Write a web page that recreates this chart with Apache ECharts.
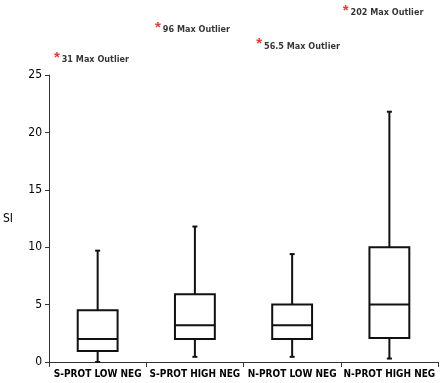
<!DOCTYPE html>
<html><head><meta charset="utf-8">
<script src="https://cdn.jsdelivr.net/npm/echarts@6/dist/echarts.min.js"></script>
<style>html,body{margin:0;padding:0;background:#fff}#c{width:440px;height:383px}</style>
</head><body><div id="c"></div>
<script>
const categories = ['S-PROT LOW NEG', 'S-PROT HIGH NEG', 'N-PROT LOW NEG', 'N-PROT HIGH NEG'];
const whiskerLow = [0, 0.45, 0.45, 0.3];
const q1 = [0.95, 2.0, 2.0, 2.1];
const median = [2.0, 3.2, 3.2, 5.0];
const q3 = [4.5, 5.9, 5.0, 10.0];
const whiskerHigh = [9.7, 11.8, 9.4, 21.8];
const outlierLabels = ['31 Max Outlier', '96 Max Outlier', '56.5 Max Outlier', '202 Max Outlier'];
const outlierX = [0.05, 1.09, 2.13, 3.02];
const outlierY = [26.3, 28.95, 27.5, 30.4];
const yTicks = [0, 5, 10, 15, 20, 25];

const boxData = categories.map((c, i) => [i, whiskerLow[i], q1[i], median[i], q3[i], whiskerHigh[i]]);
const annData = outlierLabels.map((t, i) => [outlierX[i], outlierY[i], t]);

const FONT = 'DejaVu Sans Condensed, Liberation Sans, Arial';
const chart = echarts.init(document.getElementById('c'));
const stroke = '#111';
chart.setOption({
  animation: false,
  backgroundColor: '#fff',
  grid: { left: 48, right: 2, top: 75, bottom: 21 },
  xAxis: [{
    type: 'category', data: categories, boundaryGap: true,
    axisLine: { lineStyle: { color: '#333', width: 1 } },
    axisTick: { show: true, length: 5, lineStyle: { color: '#333' } },
    axisLabel: { color: '#000', fontFamily: FONT, fontWeight: 'bold', fontSize: 10, margin: 7, interval: 0 }
  }, {
    type: 'value', min: 0, max: 4, show: false
  }],
  yAxis: {
    type: 'value', min: yTicks[0], max: yTicks[yTicks.length - 1], interval: 5,
    name: 'SI', nameLocation: 'middle', nameRotate: 0, nameGap: 36,
    nameTextStyle: { color: '#000', fontSize: 12, fontFamily: FONT },
    splitLine: { show: false },
    axisLine: { show: true, lineStyle: { color: '#333', width: 1 } },
    axisTick: { show: true, length: 4, lineStyle: { color: '#333' } },
    axisLabel: { color: '#000', fontSize: 12, fontFamily: FONT, margin: 7 }
  },
  series: [{
    type: 'custom',
    xAxisIndex: 0, yAxisIndex: 0,
    data: boxData,
    renderItem(params, api) {
      const x = api.value(0);
      const pLo = api.coord([x, api.value(1)]);
      const pQ1 = api.coord([x, api.value(2)]);
      const pMd = api.coord([x, api.value(3)]);
      const pQ3 = api.coord([x, api.value(4)]);
      const pHi = api.coord([x, api.value(5)]);
      const cx = pMd[0];
      const hw = api.size([1, 0])[0] * 0.205;
      const cap = 2.5;
      const st = { stroke: stroke, lineWidth: 2, fill: null };
      return { type: 'group', children: [
        { type: 'line', shape: { x1: cx, y1: pHi[1], x2: cx, y2: pQ3[1] }, style: st },
        { type: 'line', shape: { x1: cx, y1: pQ1[1], x2: cx, y2: pLo[1] }, style: st },
        { type: 'line', shape: { x1: cx - cap, y1: pHi[1], x2: cx + cap, y2: pHi[1] }, style: st },
        { type: 'line', shape: { x1: cx - cap, y1: pLo[1], x2: cx + cap, y2: pLo[1] }, style: st },
        { type: 'rect', shape: { x: cx - hw, y: pQ3[1], width: hw * 2, height: pQ1[1] - pQ3[1] }, style: { stroke: stroke, lineWidth: 2, fill: '#fff' } },
        { type: 'line', shape: { x1: cx - hw, y1: pMd[1], x2: cx + hw, y2: pMd[1] }, style: st }
      ]};
    }
  }, {
    type: 'scatter',
    xAxisIndex: 1, yAxisIndex: 0,
    clip: false,
    symbolSize: 0,
    data: annData,
    label: {
      show: true, position: 'right', distance: 0,
      formatter: p => '{s|*}{t|' + p.value[2] + '}',
      rich: {
        s: { color: '#e00', fontSize: 15, fontWeight: 'bold', padding: [0, 2, 4, 0] },
        t: { color: '#000', fontSize: 9, fontWeight: 'bold', fontFamily: FONT }
      }
    }
  }]
});
</script></body></html>
